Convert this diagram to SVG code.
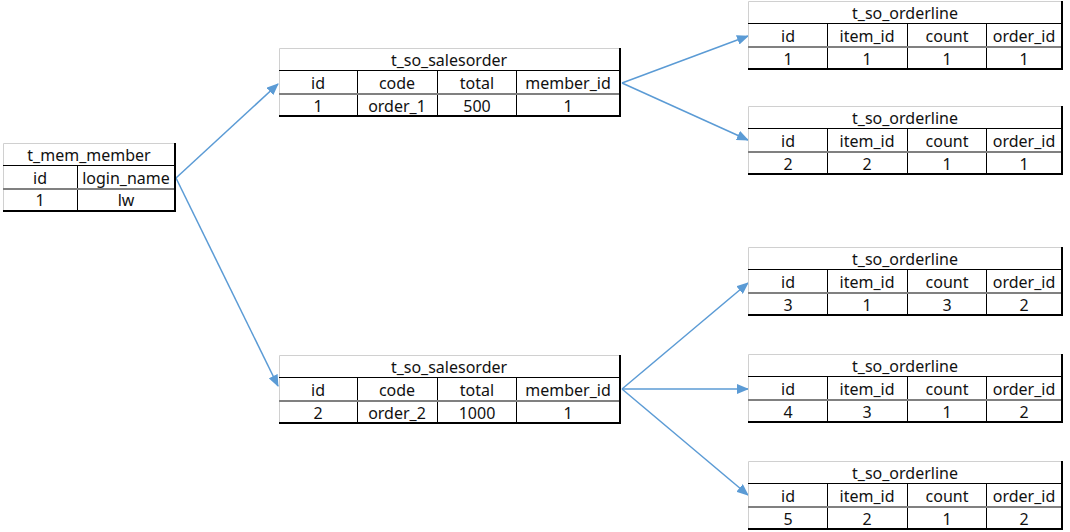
<svg xmlns="http://www.w3.org/2000/svg" width="1070" height="532" viewBox="0 0 1070 532">
<style>
text{font-family:"Noto Sans","Liberation Sans",sans-serif;font-size:16px;fill:#111;text-anchor:middle;dominant-baseline:central}
.grid{stroke:#d0d0d0;stroke-width:1;fill:none}
.blk{stroke:#000;stroke-width:1;fill:none}
.gry{stroke:#808080;stroke-width:2;fill:none}
.bot{stroke:#000;stroke-width:2;fill:none}
.conn{stroke:#5B9BD5;stroke-width:1.5;fill:none;marker-end:url(#ah)}
</style>
<defs>
<marker id="ah" viewBox="0 0 12 10" refX="11" refY="5" markerWidth="12" markerHeight="10" markerUnits="userSpaceOnUse" orient="auto">
<path d="M0,0 L12,5 L0,10 Z" fill="#5B9BD5"/>
</marker>
<g id="olframe">
<rect x="0" y="0" width="314" height="68" fill="#fff"/>
<path class="grid" d="M0.5,0.5 H314 M0.5,0.5 V68"/>
<path class="blk" d="M0,22.5 H314 M79.5,22 V68 M159.5,22 V68 M238.5,22 V68"/>
<path class="gry" d="M0,46 H314"/>
<path class="bot" d="M0,68 H315 M314,0 V69"/>
<text x="157" y="12">t_so_orderline</text>
<text x="40" y="35">id</text>
<text x="119" y="35">item_id</text>
<text x="199" y="35">count</text>
<text x="276" y="35">order_id</text>
</g>
<g id="soframe">
<rect x="0" y="0" width="341" height="68" fill="#fff"/>
<path class="grid" d="M0.5,0.5 H341 M0.5,0.5 V68"/>
<path class="blk" d="M0,22.5 H341 M78.5,22 V68 M158.5,22 V68 M237.5,22 V68"/>
<path class="gry" d="M0,46 H341"/>
<path class="bot" d="M0,68 H342 M341,0 V69"/>
<text x="170" y="12">t_so_salesorder</text>
<text x="39" y="35">id</text>
<text x="118" y="35">code</text>
<text x="198" y="35">total</text>
<text x="289" y="35">member_id</text>
</g>
</defs>

<g id="connectors">
<line class="conn" x1="176" y1="178" x2="278" y2="84"/>
<line class="conn" x1="176" y1="178" x2="278" y2="386"/>
<line class="conn" x1="622" y1="83" x2="748" y2="36"/>
<line class="conn" x1="622" y1="83" x2="748" y2="140"/>
<line class="conn" x1="622" y1="389" x2="748" y2="283"/>
<line class="conn" x1="622" y1="389" x2="748" y2="389"/>
<line class="conn" x1="622" y1="389" x2="748" y2="495"/>
</g>

<g id="t_mem_member">
<rect x="3" y="143" width="172" height="68" fill="#fff"/>
<path class="grid" d="M3.5,143.5 H175 M3.5,143.5 V211"/>
<path class="blk" d="M3,165.5 H175 M77.5,165 V211"/>
<path class="gry" d="M3,189 H175"/>
<path class="bot" d="M3,211 H176 M175,143 V212"/>
<text x="89" y="155">t_mem_member</text>
<text x="40" y="178">id</text>
<text x="126" y="178">login_name</text>
<text x="40" y="200">1</text>
<text x="126" y="200">lw</text>
</g>

<g id="salesorder1" transform="translate(279,48)">
<use href="#soframe"/>
<text x="39" y="58">1</text>
<text x="118" y="58">order_1</text>
<text x="198" y="58">500</text>
<text x="289" y="58">1</text>
</g>

<g id="salesorder2" transform="translate(279,355)">
<use href="#soframe"/>
<text x="39" y="58">2</text>
<text x="118" y="58">order_2</text>
<text x="198" y="58">1000</text>
<text x="289" y="58">1</text>
</g>

<g id="orderline1" transform="translate(748,1)">
<use href="#olframe"/>
<text x="40" y="58">1</text>
<text x="119" y="58">1</text>
<text x="199" y="58">1</text>
<text x="276" y="58">1</text>
</g>

<g id="orderline2" transform="translate(748,106)">
<use href="#olframe"/>
<text x="40" y="58">2</text>
<text x="119" y="58">2</text>
<text x="199" y="58">1</text>
<text x="276" y="58">1</text>
</g>

<g id="orderline3" transform="translate(748,247)">
<use href="#olframe"/>
<text x="40" y="58">3</text>
<text x="119" y="58">1</text>
<text x="199" y="58">3</text>
<text x="276" y="58">2</text>
</g>

<g id="orderline4" transform="translate(748,354)">
<use href="#olframe"/>
<text x="40" y="58">4</text>
<text x="119" y="58">3</text>
<text x="199" y="58">1</text>
<text x="276" y="58">2</text>
</g>

<g id="orderline5" transform="translate(748,461)">
<use href="#olframe"/>
<text x="40" y="58">5</text>
<text x="119" y="58">2</text>
<text x="199" y="58">1</text>
<text x="276" y="58">2</text>
</g>
</svg>
